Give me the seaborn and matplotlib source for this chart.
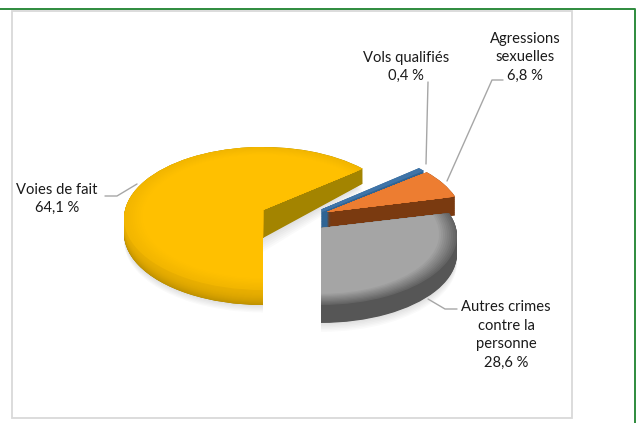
import numpy as np
import seaborn as sns
import matplotlib
matplotlib.use("Agg")
import matplotlib.pyplot as plt
from matplotlib.transforms import Transform, Bbox
from matplotlib.patches import Rectangle

categories = ["Voies de fait", "Vols qualifiés", "Agressions\nsexuelles", "Autres crimes\ncontre la\npersonne"]
values = [64.1, 0.4, 6.8, 28.6]
top_colors = ["#FFC000", "#3F74A8", "#ED7D31", "#A5A5A5"]
side_colors = ["#A38400", "#2F6494", "#7A3A10", "#565656"]

sns.set_theme(style="white")
plt.rcParams["font.family"] = ["Lato", "DejaVu Sans"]

class Persp(Transform):
    input_dims = output_dims = 2
    is_separable = False
    has_inverse = False
    def __init__(self, tip, r, b, k, d_tip, d_rim, t):
        super().__init__()
        self.a = (tip, r, b, k, d_tip, d_rim, t)
    def transform_non_affine(self, xy):
        (tx, ty), r, b, k, d_tip, d_rim, t = self.a
        xy = np.asarray(xy, float)
        x, y = xy[:, 0], xy[:, 1]
        w = 1 + k * y
        rho = np.minimum(np.hypot(x, y), 1)
        return np.column_stack([tx + r * x / w,
                                ty - b * y / w + t * (d_rim + (d_tip - d_rim) * (1 - rho))])

# per-slice placement: tip, radius x, radius y, perspective, depth at tip, depth at rim
place = [((263, 210), 138, 70.5, 0.119, 28, 15),
         ((322, 210.5), 134, 70, 0.119, 18, 18),
         ((327, 212), 135, 70, 0.119, 17, 19),
         ((321, 228), 135, 67.8, 0.119, 18, 18)]

fig = plt.figure(figsize=(6.37, 4.23), dpi=100, facecolor="white")
ax = fig.add_axes([0, 0, 1, 1])

def layer(idx, t, color, radius=1.0, z=0.0, alpha=None, clip_left=False, edge=None):
    cols = ["none"] * 4
    cols[idx] = color
    wedges, _ = ax.pie(values, startangle=270, counterclock=False, colors=cols, radius=radius,
                       wedgeprops=dict(linewidth=0))
    for i, w in enumerate(wedges):
        if i != idx:
            w.remove()
            continue
        w.set_transform(Persp(*place[idx], t) + ax.transData)
        w.set_zorder(z)
        if alpha is not None:
            w.set_alpha(alpha)
        if edge:
            w.set_edgecolor(edge)
            w.set_linewidth(1.8)
        if clip_left:
            w.set_clip_box(Bbox([[0, 0], [263.5, 423]]))
            w.set_clip_on(True)
        else:
            w.set_clip_on(False)

def mix(c1, c2, f):
    a, b = np.array(matplotlib.colors.to_rgb(c1)), np.array(matplotlib.colors.to_rgb(c2))
    return tuple(a + (b - a) * f)

for idx in range(4):
    base = (idx + 1) * 1000
    # soft shadow
    if idx in (0, 3):
        for j, s in enumerate(np.linspace(1.5, 1.08, 6)):
            layer(idx, s, "black", z=base + j, alpha=0.018)
    n = 30
    for j, t in enumerate(np.linspace(1, 0, n)):
        layer(idx, t, side_colors[idx], z=base + 10 + j, edge=side_colors[idx] if idx == 1 else None)
    # front rim of the yellow slice is lighter than its cut face
    if idx == 0:
        for j, t in enumerate(np.linspace(1, 0, n)):
            col = mix("#E8AE00", "#C09200", t ** 2)
            layer(idx, t, col, z=base + 50 + j, clip_left=True)
    # bevel on the top face
    tops = top_colors[idx]
    bevel = {0: "#F2B600", 1: tops, 2: tops, 3: "#646464"}[idx]
    if idx == 1:
        layer(idx, 0, tops, z=base + 200, edge=tops)
    else:
        for j, r in enumerate(np.linspace(1, 0.87, 10)):
            layer(idx, 0, mix(bevel, tops, j / 9), radius=r, z=base + 200 + j)

# restore the pixel-like data space after ax.pie
ax.set_aspect("auto")
ax.set_xlim(0, 637)
ax.set_ylim(423, 0)
ax.axis("off")

# frames
ax.add_patch(Rectangle((11.5, 11), 560, 407.5, fill=False, ec="#D9D9D9", lw=1.3, zorder=1))
ax.plot([0, 634.5, 634.5], [9.5, 9.5, 423], color="#2E8B3D", lw=1.4, zorder=2, solid_capstyle="butt")

# leader lines
lc = "#A6A6A6"
z = 9000
ax.plot([105, 117, 137], [196, 196, 184], color=lc, lw=1, zorder=z)
ax.plot([428, 426], [82, 164], color=lc, lw=1, zorder=z)
ax.plot([503, 492, 447], [80, 80, 181], color=lc, lw=1, zorder=z)
ax.plot([457, 445, 428], [309, 309, 299], color=lc, lw=1, zorder=z)

def lab(i):
    return categories[i] + "\n" + f"{values[i]:.1f}".replace(".", ",") + " %"

kw = dict(ha="center", va="center", fontsize=10.6, color="#1A1A1A", linespacing=1.4, zorder=z)
ax.text(57, 199, lab(0), **kw)
ax.text(406, 67, lab(1), **kw)
ax.text(525, 57, lab(2), **kw)
ax.text(506, 335, lab(3), **kw)

fig.savefig("out.png", dpi=100, facecolor="white")
